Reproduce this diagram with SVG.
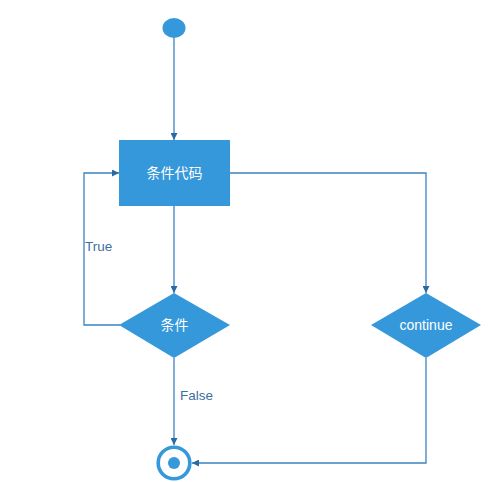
<svg xmlns="http://www.w3.org/2000/svg" width="500" height="482" viewBox="0 0 500 482">
<style>
.shape{fill:#3498db;stroke:none}
.conn{fill:none;stroke:#3a83c0;stroke-width:1.3}
.lbl{font-family:"Liberation Sans",Arial,sans-serif;font-size:13.5px;fill:#3d6fa0}
.wt{font-family:"Liberation Sans","Noto Sans CJK SC",sans-serif;font-size:14px;fill:#ffffff;text-anchor:middle;dominant-baseline:central}
</style>
<defs>
<marker id="arr" viewBox="0 0 10 10" refX="10" refY="5" markerWidth="7" markerHeight="7" markerUnits="userSpaceOnUse" orient="auto">
<path d="M0,0 L10,5 L0,10 z" fill="#2a6aa3"/>
</marker>
</defs>
<rect width="500" height="482" fill="#ffffff"/>
<g id="connectors">
<path class="conn" d="M174,38 L174,140" marker-end="url(#arr)"/>
<path class="conn" d="M174,206 L174,293" marker-end="url(#arr)"/>
<path class="conn" d="M120,325 L84,325 L84,173 L119,173" marker-end="url(#arr)"/>
<path class="conn" d="M230,173 L426,173 L426,293" marker-end="url(#arr)"/>
<path class="conn" d="M174,358 L174,445" marker-end="url(#arr)"/>
<path class="conn" d="M426,358 L426,463 L192,463" marker-end="url(#arr)"/>
<text class="lbl" x="85" y="251">True</text>
<text class="lbl" x="180" y="400">False</text>
</g>
<g id="start">
<ellipse class="shape" cx="174" cy="28" rx="11.5" ry="10"/>
</g>
<g id="code">
<rect class="shape" x="119" y="140" width="111" height="66"/>
<text class="wt" x="174.5" y="173">条件代码</text>
</g>
<g id="cond">
<polygon class="shape" points="174,293 230,325 174,358 119,325"/>
<text class="wt" x="174.5" y="325">条件</text>
</g>
<g id="continue">
<polygon class="shape" points="426,293 481,325 426,358 371,325"/>
<text class="wt" x="426" y="325">continue</text>
</g>
<g id="end">
<circle cx="174" cy="463" r="15.8" fill="#ffffff" stroke="#3498db" stroke-width="3.6"/>
<circle class="shape" cx="174" cy="463" r="6"/>
</g>
</svg>
